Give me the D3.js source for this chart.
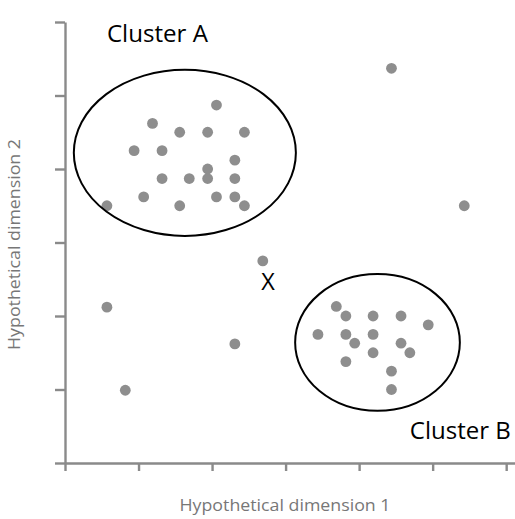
<!DOCTYPE html>
<html>
<head>
<meta charset="utf-8">
<script src="https://cdn.jsdelivr.net/npm/d3@7"></script>
<style>
  html, body { margin: 0; padding: 0; background: #fff; }
  svg { display: block; }
</style>
</head>
<body>
<svg id="chart" width="515" height="519"></svg>
<script>
// Cluster A points (dimension 1, dimension 2)
const clusterA = [
  [2.06, 4.87], [1.19, 4.62], [1.56, 4.50], [1.94, 4.50], [2.44, 4.50],
  [0.94, 4.25], [1.32, 4.25], [2.31, 4.12], [1.94, 4.00], [1.32, 3.87],
  [1.69, 3.87], [1.94, 3.87], [2.31, 3.87], [1.07, 3.62], [2.06, 3.62],
  [2.31, 3.62], [0.57, 3.50], [1.56, 3.50], [2.44, 3.50]
];
// Cluster B points
const clusterB = [
  [3.69, 2.13], [3.82, 2.00], [4.19, 2.00], [4.57, 2.00], [4.94, 1.88],
  [3.44, 1.75], [3.82, 1.75], [4.19, 1.75], [3.94, 1.63], [4.57, 1.63],
  [4.69, 1.50], [4.19, 1.50], [3.82, 1.38], [4.44, 1.25], [4.44, 1.00]
];
// Points outside both clusters
const outliers = [
  [4.44, 5.37], [5.43, 3.50], [2.69, 2.75], [0.57, 2.12], [2.31, 1.62], [0.82, 0.99]
];
// Cluster boundaries: centre x, centre y, radius x, radius y (data units)
const clusterNames = ["Cluster A", "Cluster B"];
const clusterShapes = [
  [1.63, 4.22, 1.51, 1.13],
  [4.25, 1.64, 1.12, 0.93]
];
// Label anchors (start, baseline) in data units
const clusterLabelPos = [[0.57, 5.73], [4.69, 0.33]];
const markedPoint = { label: "X", pos: [2.76, 2.35] };
const tickValues = [0, 1, 2, 3, 4, 5, 6];
const xTitle = "Hypothetical dimension 1";
const yTitle = "Hypothetical dimension 2";

const svg = d3.select("#chart");
const x = d3.scaleLinear().domain([0, 6.12]).range([65, 515]);
const y = d3.scaleLinear().domain([0, 6]).range([463, 22]);
const axisColor = "#8a8a8a";
const font = "'Open Sans', 'DejaVu Sans', sans-serif";

// Axes
const gx = svg.append("g").attr("transform", `translate(0,${y(0)})`)
  .call(d3.axisBottom(x).tickValues(tickValues).tickSize(8).tickSizeOuter(0).tickFormat(""));
const gy = svg.append("g").attr("transform", `translate(${x(0)},0)`)
  .call(d3.axisLeft(y).tickValues(tickValues).tickSize(10).tickSizeOuter(0).tickFormat(""));
[gx, gy].forEach(g => {
  g.selectAll("path.domain").attr("stroke", axisColor).attr("stroke-width", 2.4);
  g.selectAll(".tick line").attr("stroke", axisColor).attr("stroke-width", 2.4);
});

// Axis titles
svg.append("text")
  .attr("x", 285).attr("y", 511)
  .attr("text-anchor", "middle")
  .attr("font-family", font).attr("font-size", 16.5)
  .attr("textLength", 211).attr("lengthAdjust", "spacingAndGlyphs")
  .attr("fill", "#777")
  .text(xTitle);
svg.append("text")
  .attr("transform", "translate(20,244.5) rotate(-90)")
  .attr("text-anchor", "middle")
  .attr("font-family", font).attr("font-size", 16.5)
  .attr("textLength", 211).attr("lengthAdjust", "spacingAndGlyphs")
  .attr("fill", "#777")
  .text(yTitle);

// Points
const allPoints = clusterA.concat(clusterB, outliers);
svg.append("g").selectAll("circle")
  .data(allPoints)
  .join("circle")
  .attr("cx", d => x(d[0]))
  .attr("cy", d => y(d[1]))
  .attr("r", 5.4)
  .attr("fill", "#8e8e8e");

// Cluster ellipses
svg.append("g").selectAll("ellipse")
  .data(clusterShapes)
  .join("ellipse")
  .attr("cx", d => x(d[0]))
  .attr("cy", d => y(d[1]))
  .attr("rx", d => x(d[2]) - x(0))
  .attr("ry", d => y(0) - y(d[3]))
  .attr("fill", "none")
  .attr("stroke", "#000")
  .attr("stroke-width", 2);

// Cluster labels
svg.append("g").selectAll("text")
  .data(clusterNames)
  .join("text")
  .attr("x", (d, i) => x(clusterLabelPos[i][0]))
  .attr("y", (d, i) => y(clusterLabelPos[i][1]))
  .attr("font-family", font).attr("font-size", 23.5)
  .attr("textLength", 101).attr("lengthAdjust", "spacingAndGlyphs")
  .attr("fill", "#000")
  .text(d => d);

// Marked point label
svg.append("text")
  .attr("x", x(markedPoint.pos[0])).attr("y", y(markedPoint.pos[1]))
  .attr("text-anchor", "middle")
  .attr("font-family", font).attr("font-size", 23.5)
  .attr("fill", "#000")
  .text(markedPoint.label);
</script>
</body>
</html>
